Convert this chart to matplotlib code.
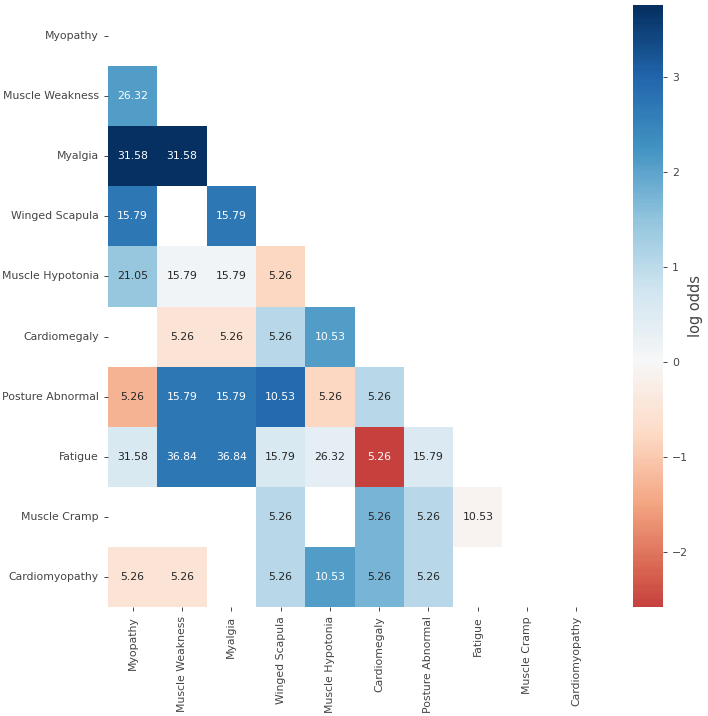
import numpy as np
import matplotlib
matplotlib.use("Agg")
import matplotlib.pyplot as plt
import seaborn as sns

# --- data ---
labels = ["Myopathy", "Muscle Weakness", "Myalgia", "Winged Scapula",
          "Muscle Hypotonia", "Cardiomegaly", "Posture Abnormal", "Fatigue",
          "Muscle Cramp", "Cardiomyopathy"]

nan = np.nan
# log odds (colour)
log_odds = np.array([
    [nan,  nan,  nan,  nan,  nan,  nan,   nan,  nan,  nan, nan],
    [2.1,  nan,  nan,  nan,  nan,  nan,   nan,  nan,  nan, nan],
    [3.76, 3.76, nan,  nan,  nan,  nan,   nan,  nan,  nan, nan],
    [2.7,  nan,  2.7,  nan,  nan,  nan,   nan,  nan,  nan, nan],
    [1.45, 0.12, 0.12, -0.8, nan,  nan,   nan,  nan,  nan, nan],
    [nan, -0.5, -0.5,  1.05, 2.1,  nan,   nan,  nan,  nan, nan],
    [-1.3, 2.7,  2.7,  2.9, -0.8,  1.05,  nan,  nan,  nan, nan],
    [0.6,  2.7,  2.7,  0.6,  0.35, -2.58, 0.55, nan,  nan, nan],
    [nan,  nan,  nan,  1.05, nan,  1.75,  1.05, -0.1, nan, nan],
    [-0.5, -0.5, nan,  1.05, 2.1,  1.75,  1.05, nan,  nan, nan],
])

# percentage shown in each cell
pct = np.array([
    [nan,   nan,   nan,   nan,   nan,   nan,  nan,   nan,   nan, nan],
    [26.32, nan,   nan,   nan,   nan,   nan,  nan,   nan,   nan, nan],
    [31.58, 31.58, nan,   nan,   nan,   nan,  nan,   nan,   nan, nan],
    [15.79, nan,   15.79, nan,   nan,   nan,  nan,   nan,   nan, nan],
    [21.05, 15.79, 15.79, 5.26,  nan,   nan,  nan,   nan,   nan, nan],
    [nan,   5.26,  5.26,  5.26,  10.53, nan,  nan,   nan,   nan, nan],
    [5.26,  15.79, 15.79, 10.53, 5.26,  5.26, nan,   nan,   nan, nan],
    [31.58, 36.84, 36.84, 15.79, 26.32, 5.26, 15.79, nan,   nan, nan],
    [nan,   nan,   nan,   5.26,  nan,   5.26, 5.26,  10.53, nan, nan],
    [5.26,  5.26,  nan,   5.26,  10.53, 5.26, 5.26,  nan,   nan, nan],
])

annot = np.where(np.isnan(pct), "", np.char.mod("%.2f", np.nan_to_num(pct)))

# --- plot ---
fs = 7.8
fig = plt.figure(figsize=(7.08, 7.16), dpi=100)
ax = fig.add_axes([0.1525, 0.1522, 0.6965, 0.8394])
cax = fig.add_axes([0.894, 0.1522, 0.0424, 0.8408])

sns.heatmap(log_odds, mask=np.isnan(log_odds), cmap="RdBu", center=0,
            vmin=-2.58, vmax=3.76, annot=annot, fmt="",
            annot_kws={"fontsize": fs},
            xticklabels=labels, yticklabels=labels,
            ax=ax, cbar_ax=cax)

ax.tick_params(labelsize=fs, colors="#444444", length=3, width=0.7)
ax.set_xticklabels(labels, rotation=90)
ax.set_yticklabels(labels, rotation=0)
cax.tick_params(labelsize=fs, colors="#444444", length=3, width=0.7)
cax.set_ylabel("log odds", fontsize=10.5, color="#444444", labelpad=0)
for s in cax.spines.values():
    s.set_visible(False)

fig.savefig("out.png", dpi=100)
